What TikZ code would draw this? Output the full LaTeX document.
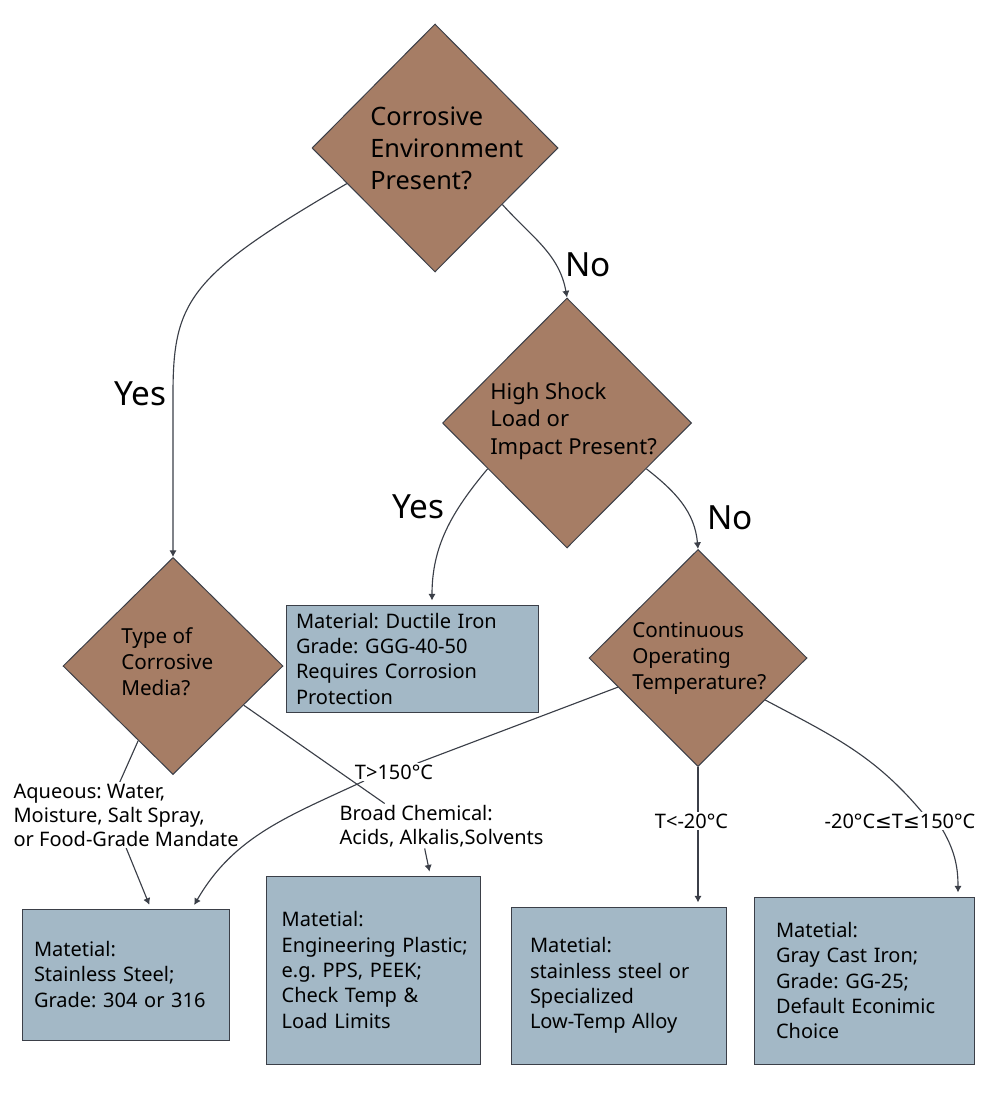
\documentclass[tikz,border=0pt]{standalone}
\usepackage{fontspec}
\setmainfont{Noto Sans}
\newfontfamily\mathsym{DejaVu Sans}
\frenchspacing
\usetikzlibrary{shapes.geometric,arrows.meta}
\definecolor{clay}{HTML}{A67D65}
\definecolor{slate}{HTML}{A3B8C6}
\definecolor{ink}{HTML}{3B3F48}
\newcommand{\lesseq}{{\mathsym ≤}}
\pgfdeclarelayer{back}
\pgfsetlayers{back,main}
\begin{document}
\begin{tikzpicture}[x=0.75pt,y=-0.75pt,
  dia/.style={diamond,draw=ink,fill=clay,line width=0.75pt,inner sep=0pt},
  qtext/.style={anchor=west,align=left,inner sep=0pt},
  matbox/.style={rectangle,draw=ink,fill=slate,line width=0.75pt,inner sep=0pt,
    align=left,font=\fontsize{15}{19}\selectfont},
  yn/.style={font=\fontsize{25}{30}\selectfont,inner sep=1pt},
  elab/.style={fill=white,inner sep=1pt,align=left,font=\fontsize{15}{18}\selectfont},
  link/.style={draw=ink,line width=0.85pt},
  flow/.style={link,-{Latex[length=5pt,width=5.5pt]}},
  tobox/.style={flow,shorten >=3pt}]
  \useasboundingbox (0,0) rectangle (1000,1106);
  % decision diamonds and their questions
  \node[dia,minimum width=184.5pt,minimum height=186pt] (d1) at (435,148) {};
  \node[qtext,font=\fontsize{19}{24}\selectfont] (q1) at (370,148) {Corrosive\\Environment\\Present?};
  \node[dia,minimum width=186.75pt,minimum height=187.5pt] (d2) at (567,423) {};
  \node[qtext,font=\fontsize{16.5}{20.6}\selectfont] (q2) at (490,421) {High Shock\\Load or\\Impact Present?};
  \node[dia,minimum width=165pt,minimum height=162.75pt] (d3) at (173,666) {};
  \node[qtext,font=\fontsize{15.5}{19.5}\selectfont] (q3) at (121,662) {Type of\\Corrosive\\Media?};
  \node[dia,minimum width=163.5pt,minimum height=162.75pt] (d4) at (698,658) {};
  \node[qtext,font=\fontsize{15.5}{19.5}\selectfont] (q4) at (632,658) {Continuous\\Operating\\Temperature?};
  % material boxes
  \node[matbox,minimum width=189pt,minimum height=80.25pt,text width=174pt] (boxA) at (412,658.5)
    {Material: Ductile Iron\\Grade: GGG-40-50\\Requires Corrosion\\Protection};
  \node[matbox,minimum width=155.25pt,minimum height=98.25pt,text width=137.25pt] (boxB) at (125.5,974.5)
    {Matetial:\\Stainless Steel;\\Grade: 304 or 316};
  \node[matbox,minimum width=160.5pt,minimum height=141pt,text width=137pt] (boxC) at (373,970)
    {Matetial:\\\mbox{Engineering Plastic;}\\e.g. PPS, PEEK;\\Check Temp \&\\Load Limits};
  \node[matbox,minimum width=161.25pt,minimum height=117.75pt,text width=132.75pt] (boxD) at (618.5,985.5)
    {Matetial:\\stainless steel or\\Specialized\\Low-Temp Alloy};
  \node[matbox,minimum width=165pt,minimum height=125.25pt,text width=132pt] (boxE) at (864,980.5)
    {Matetial:\\Gray Cast Iron;\\Grade: GG-25;\\Default Econimic\\Choice};
  % branch labels
  \node[yn] (yes1) at (140,394) {Yes};
  \node[yn] (no1) at (588,265) {No};
  \node[yn] (yes2) at (418,507) {Yes};
  \node[yn] (no2) at (730,518) {No};
  \node[elab,anchor=west] (aq) at (12,815) {Aqueous: Water,\\Moisture, Salt Spray,\\or Food-Grade Mandate};
  \node[elab] (t150) at (394,772) {T>150°C};
  \node[elab,anchor=west] (broad) at (338,826) {Broad Chemical:\\Acids, Alkalis,Solvents};
  \node[elab] (tlow) at (691.5,821) {T<-20°C};
  \node[elab] (tmid) at (900,821) {-20°C\lesseq T\lesseq 150°C};
  \begin{pgfonlayer}{back}
  % yes / no branches
  \draw[flow] (d1.202) .. controls (190,275) and (173,300) .. (d3.north |- yes1) -- (d3.north);
  \draw[flow] (d1.-40) to[out=-48,in=100] (d2.north);
  \draw[tobox] (d2.210) to[out=230,in=90] ([xshift=15pt]boxA.north);
  \draw[flow] (d2.-30) to[out=-38,in=95] (d4.north);
  % media branches
  \draw[link] (d3.245) -- (aq.101);
  \draw[tobox] (aq.south) -- ([xshift=19pt]boxB.north);
  \draw[link] (d3.-29) -- ([xshift=35pt]broad.north west);
  \draw[tobox] ([xshift=65pt]broad.south west) -- ([xshift=43pt]boxC.north);
  % temperature branches
  \draw[link] (d4.200) -- (t150);
  \draw[tobox] ([xshift=8pt]t150.south west) to[out=205,in=60] ([xshift=50pt]boxB.north);
  \draw[link] (d4.south) -- (d4.south |- tlow.north);
  \draw[tobox] (d4.south |- tlow.south) -- (d4.south |- boxD.north);
  \draw[link] (d4.-32) to[out=-28,in=130] ([xshift=16.5pt]tmid.north);
  \draw[tobox] ([xshift=32pt]tmid.south) to[out=-60,in=90] ([xshift=70.5pt]boxE.north);
  \end{pgfonlayer}
\end{tikzpicture}
\end{document}
